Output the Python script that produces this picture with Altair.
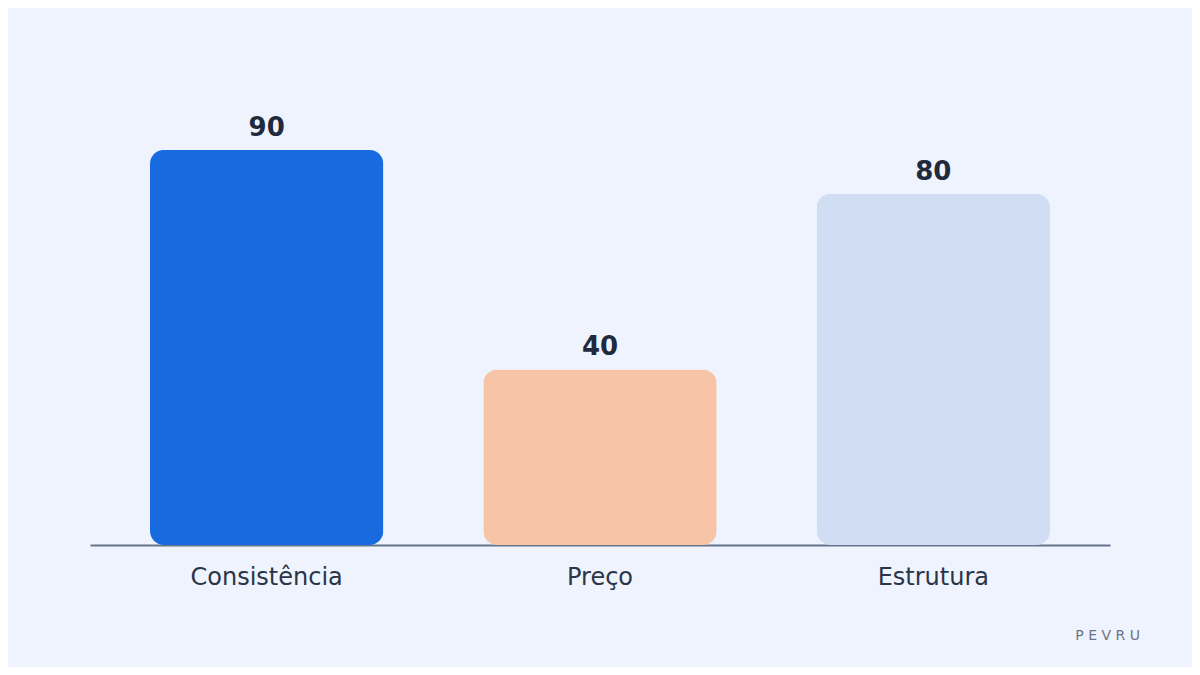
import altair as alt
import pandas as pd

categories = ["Consistência", "Preço", "Estrutura"]
values = [90, 40, 80]
colors = ["#186BDF", "#F7C4A7", "#D0DDF3"]

df = pd.DataFrame({"cat": categories, "val": values, "color": colors})

x = alt.X("cat:N", sort=categories,
          scale=alt.Scale(paddingInner=0.3, paddingOuter=0.18),
          axis=alt.Axis(title=None, labelAngle=0, ticks=False, domain=True,
                        domainColor="#64748B", domainWidth=2,
                        labelFont="DejaVu Sans", labelFontSize=24,
                        labelColor="#2A3547", labelPadding=20, grid=False))
y = alt.Y("val:Q", scale=alt.Scale(domain=[0, 100]), axis=None)

bars = alt.Chart(df).mark_bar(cornerRadius=14).encode(
    x=x, y=y, color=alt.Color("color:N", scale=None)
)
labels = alt.Chart(df).mark_text(
    font="DejaVu Sans", fontSize=26, fontWeight="bold", color="#1F2A3C", dy=-14, baseline="alphabetic"
).encode(x=x, y=y, text="val:Q")

wm = alt.Chart(pd.DataFrame({"t": ["P E V R U"]})).mark_text(
    font="DejaVu Sans", fontSize=14, color="#6B7487", align="right", baseline="middle"
).encode(x=alt.value(1050), y=alt.value(530), text="t:N")

chart = (bars + labels + wm).properties(
    width=1020, height=439, background="#EEF3FE",
    padding={"left": 82, "top": 98, "right": 82, "bottom": 122},
    autosize=alt.AutoSizeParams(type="none"),
).configure_view(stroke=None)

chart.save("out.html", embed_options={"renderer": "svg", "actions": False})
